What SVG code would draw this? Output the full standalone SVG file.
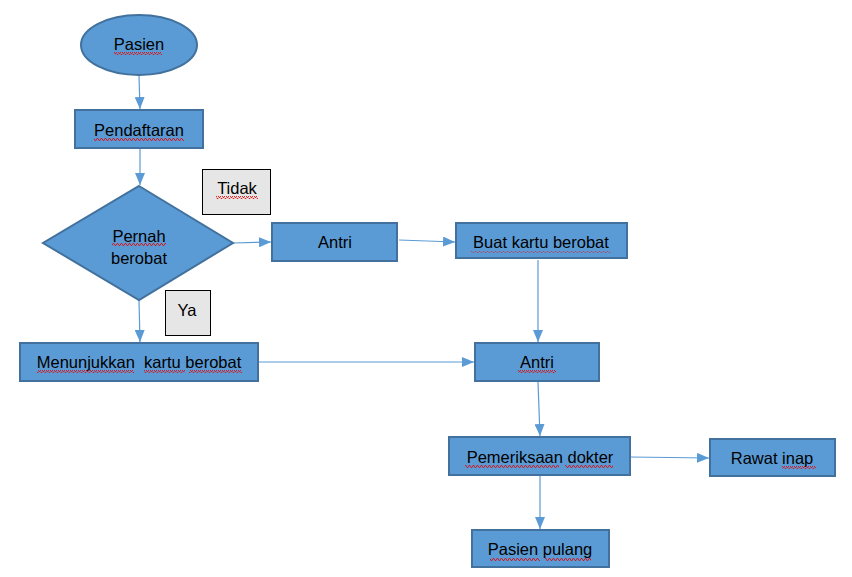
<svg xmlns="http://www.w3.org/2000/svg" width="852" height="577" viewBox="0 0 852 577">
<style>
.n{fill:#5b9bd5;stroke:#41719c;stroke-width:2}
.lb{fill:#e7e6e6;stroke:#000;stroke-width:1}
.t{font-family:"Liberation Sans",Arial,sans-serif;font-size:16.5px;fill:#000;text-anchor:middle;dominant-baseline:central}
.c{stroke:#5b9bd5;stroke-width:1.2;fill:none;marker-end:url(#ah)}
.sq{fill:url(#wave)}
</style>
<defs>
<marker id="ah" markerWidth="12" markerHeight="10" refX="12" refY="5" orient="auto" markerUnits="userSpaceOnUse">
<path d="M0,0 L12,5 L0,10 Z" fill="#5b9bd5"/>
</marker>
<pattern id="wave" width="4" height="3" patternUnits="userSpaceOnUse">
<path d="M0,2.5 L1,0.5 L2,0.5 L3,2.5 L4,2.5" stroke="#e01010" stroke-width="0.9" fill="none"/>
</pattern>
</defs>
<g id="connectors">
<line class="c" x1="139" y1="76" x2="140" y2="109"/>
<line class="c" x1="140" y1="149" x2="140" y2="185"/>
<line class="c" x1="233" y1="243" x2="271" y2="242"/>
<line class="c" x1="399" y1="240" x2="455" y2="242"/>
<line class="c" x1="538" y1="260" x2="538" y2="342"/>
<line class="c" x1="139" y1="300" x2="140" y2="342"/>
<line class="c" x1="258" y1="362" x2="474" y2="362"/>
<line class="c" x1="538" y1="382" x2="540" y2="436"/>
<line class="c" x1="630" y1="457" x2="709" y2="458"/>
<line class="c" x1="540" y1="476" x2="540" y2="529"/>
</g>
<g id="pasien">
<ellipse class="n" cx="139" cy="45" rx="58" ry="30"/>
<text class="t" x="139" y="44">Pasien</text>
<rect class="sq" x="114" y="52" width="48" height="3"/>
</g>
<g id="pendaftaran">
<rect class="n" x="75" y="110" width="128" height="38"/>
<text class="t" x="139" y="130">Pendaftaran</text>
<rect class="sq" x="94" y="138" width="90" height="3"/>
</g>
<g id="pernah-berobat">
<polygon class="n" points="139,186 233,243 139,300 43,243"/>
<text class="t" x="139" y="236">Pernah</text>
<text class="t" x="139" y="258">berobat</text>
<rect class="sq" x="112" y="243" width="54" height="3"/>
</g>
<g id="tidak">
<rect class="lb" x="202.5" y="169.5" width="68" height="45"/>
<text class="t" x="237" y="188">Tidak</text>
<rect class="sq" x="216" y="196" width="42" height="3"/>
</g>
<g id="ya">
<rect class="lb" x="165.5" y="290.5" width="45" height="45"/>
<text class="t" x="187" y="310">Ya</text>
</g>
<g id="antri1">
<rect class="n" x="272" y="223" width="125" height="38"/>
<text class="t" x="335" y="242">Antri</text>
</g>
<g id="buat-kartu">
<rect class="n" x="456" y="223" width="171" height="35"/>
<text class="t" x="541" y="242">Buat kartu berobat</text>
<rect class="sq" x="471" y="251" width="140" height="2" style="opacity:0.6"/>
</g>
<g id="menunjukkan">
<rect class="n" x="20" y="343" width="238" height="38"/>
<text class="t" x="139" y="362" xml:space="preserve">Menunjukkan  kartu berobat</text>
<rect class="sq" x="37" y="370" width="97" height="3"/>
<rect class="sq" x="144" y="370" width="41" height="3"/>
<rect class="sq" x="189" y="370" width="53" height="3"/>
</g>
<g id="antri2">
<rect class="n" x="475" y="343" width="124" height="38"/>
<text class="t" x="537" y="362">Antri</text>
<rect class="sq" x="518" y="370" width="38" height="3"/>
</g>
<g id="pemeriksaan">
<rect class="n" x="449" y="437" width="181" height="38"/>
<text class="t" x="540" y="457">Pemeriksaan dokter</text>
<rect class="sq" x="465" y="465" width="94" height="3"/>
<rect class="sq" x="565" y="465" width="48" height="3"/>
</g>
<g id="rawat-inap">
<rect class="n" x="710" y="439" width="125" height="37"/>
<text class="t" x="772" y="458">Rawat inap</text>
<rect class="sq" x="782" y="466" width="34" height="3"/>
</g>
<g id="pasien-pulang">
<rect class="n" x="472" y="530" width="137" height="37"/>
<text class="t" x="540" y="549">Pasien pulang</text>
<rect class="sq" x="490" y="558" width="50" height="3"/>
<rect class="sq" x="545" y="558" width="46" height="3"/>
</g>
</svg>
